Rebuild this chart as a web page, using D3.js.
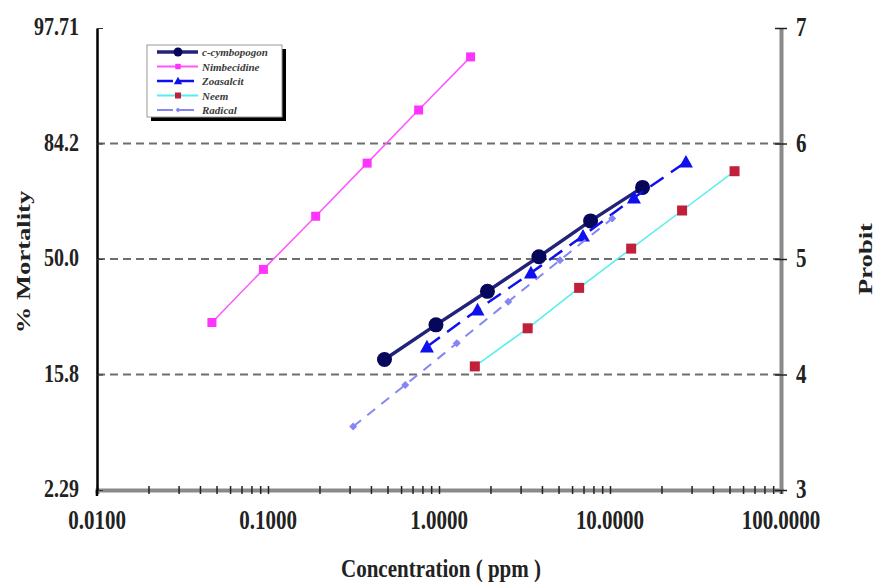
<!DOCTYPE html>
<html>
<head>
<meta charset="utf-8">
<script src="https://cdn.jsdelivr.net/npm/d3@7"></script>
<style>
body { margin: 0; background: #fff; }
text { font-family: "Liberation Serif", "DejaVu Serif", serif; font-weight: bold; fill: #222; }
</style>
</head>
<body>
<script>
// probit values and matching % mortality labels
var probitTicks = [3, 4, 5, 6, 7];
var mortalityLabels = ["2.29", "15.8", "50.0", "84.2", "97.71"];
var concTicks = [0.01, 0.1, 1, 10, 100];
var concLabels = ["0.0100", "0.1000", "1.0000", "10.0000", "100.0000"];
var gridProbits = [4, 5, 6];

var names = ["c-cymbopogon", "Nimbecidine", "Zoasalcit", "Neem", "Radical"];

var cymConc = [0.48, 0.96, 1.92, 3.84, 7.7, 15.5];
var cymProbit = [4.13, 4.43, 4.72, 5.02, 5.33, 5.62];
var nimConc = [0.047, 0.094, 0.19, 0.38, 0.76, 1.53];
var nimProbit = [4.45, 4.91, 5.37, 5.83, 6.29, 6.75];
var zoaConc = [0.85, 1.68, 3.45, 6.95, 13.8, 27.8];
var zoaProbit = [4.24, 4.56, 4.88, 5.2, 5.53, 5.84];
var neemConc = [1.62, 3.3, 6.6, 13.3, 26.4, 53.5];
var neemProbit = [4.07, 4.4, 4.75, 5.09, 5.42, 5.76];
var radConc = [0.315, 0.635, 1.27, 2.54, 5.1, 10.3];
var radProbit = [3.55, 3.91, 4.27, 4.63, 4.99, 5.35];

var W = 877, H = 582;
var svg = d3.select("body").append("svg").attr("width", W).attr("height", H);

var x = d3.scaleLog().domain([0.01, 100]).range([97, 781]);
var y = d3.scaleLinear().domain([3, 7]).range([490, 28]);

// the source picture is stretched a bit vertically, so text gets a taller scale
function label(g, tx, ty, str, size, anchor, rot, sy) {
  return g.append("text")
    .attr("transform", "translate(" + tx + "," + ty + ")" + (rot ? " rotate(" + rot + ")" : "") +
      " scale(" + (rot ? (sy || 1.25) + ",1" : "1," + (sy || 1.25)) + ")")
    .attr("text-anchor", anchor).attr("font-size", size).text(str);
}

// dashed grid
svg.append("g").selectAll("line").data(gridProbits).enter().append("line")
  .attr("x1", x(0.01)).attr("x2", x(100))
  .attr("y1", function (d) { return y(d); }).attr("y2", function (d) { return y(d); })
  .attr("stroke", "#6e6e6e").attr("stroke-width", 2).attr("stroke-dasharray", "8,5");

// bottom axis
var minor = [];
for (var e = -2; e < 2; e++) {
  for (var m = 1; m < 10; m++) minor.push(m * Math.pow(10, e));
}
minor.push(100);
var xAxis = svg.append("g").attr("transform", "translate(0," + y(3) + ")")
  .call(d3.axisBottom(x).tickValues(minor).tickSize(4).tickFormat(""));
xAxis.select(".domain").attr("stroke", "#8a8a8a").attr("stroke-width", 4);
xAxis.selectAll(".tick line").attr("y1", -4).attr("stroke", "#222").attr("stroke-width", 1.5);
var xl = svg.append("g");
concTicks.forEach(function (d, i) { label(xl, x(d), 529, concLabels[i], 21, "middle"); });

// left axis
var yAxisL = svg.append("g").attr("transform", "translate(" + x(0.01) + ",0)")
  .call(d3.axisRight(y).tickValues(probitTicks).tickSize(6).tickSizeOuter(0).tickFormat(""));
yAxisL.select(".domain").attr("stroke", "#000").attr("stroke-width", 2.5);
yAxisL.selectAll(".tick line").attr("stroke", "#333");
svg.append("line").attr("x1", x(0.01)).attr("x2", x(0.01)).attr("y1", y(3)).attr("y2", y(3) + 6)
  .attr("stroke", "#000").attr("stroke-width", 2.5);
var yl = svg.append("g");
probitTicks.forEach(function (d, i) { label(yl, 79, y(d) + 7, mortalityLabels[i], 20, "end"); });

// right axis
var yAxisR = svg.append("g").attr("transform", "translate(" + x(100) + ",0)")
  .call(d3.axisRight(y).tickValues(probitTicks).tickSize(6).tickSizeOuter(0).tickFormat(""));
yAxisR.select(".domain").attr("stroke", "#8a8a8a").attr("stroke-width", 4);
yAxisR.selectAll(".tick line").attr("x1", -6).attr("stroke", "#222").attr("stroke-width", 1.5);
var yr = svg.append("g");
probitTicks.forEach(function (d) { label(yr, 796, y(d) + 8, d, 21, "start"); });

// axis titles
label(svg, 30, 262, "% Mortality", 19, "middle", -90, 1.4);
label(svg, 872, 259, "Probit", 19, "middle", -90, 1.4);
label(svg, 441, 577, "Concentration ( ppm )", 21, "middle", 0, 1.2);

var series = [
  { conc: cymConc, p: cymProbit, line: "#22227a", w: 3.5, dash: null, mark: "circle", fill: "#06065a", size: 7.5 },
  { conc: nimConc, p: nimProbit, line: "#ff55ff", w: 1.5, dash: null, mark: "square", fill: "#ff33ff", size: 4.5 },
  { conc: zoaConc, p: zoaProbit, line: "#1010ee", w: 2.5, dash: "16,9", mark: "triangle", fill: "#1010ee", size: 7 },
  { conc: neemConc, p: neemProbit, line: "#55eeee", w: 1.5, dash: null, mark: "square", fill: "#c0203a", size: 5 },
  { conc: radConc, p: radProbit, line: "#8585f5", w: 2, dash: "10,8", mark: "diamond", fill: "#8585f5", size: 4 }
];

var line = d3.line();
function drawMark(g, s, cx, cy, k) {
  var r = s.size * k;
  if (s.mark === "circle") {
    g.append("circle").attr("cx", cx).attr("cy", cy).attr("r", r).attr("fill", s.fill);
  } else if (s.mark === "square") {
    g.append("rect").attr("x", cx - r).attr("y", cy - r).attr("width", 2 * r).attr("height", 2 * r).attr("fill", s.fill);
  } else if (s.mark === "triangle") {
    g.append("path").attr("d", "M" + cx + "," + (cy - r) + "L" + (cx + r) + "," + (cy + r * 0.8) + "L" + (cx - r) + "," + (cy + r * 0.8) + "Z")
      .attr("fill", s.fill);
  } else {
    g.append("path").attr("d", "M" + cx + "," + (cy - r) + "L" + (cx + r) + "," + cy + "L" + cx + "," + (cy + r) + "L" + (cx - r) + "," + cy + "Z")
      .attr("fill", s.fill);
  }
}

series.forEach(function (s) {
  var pts = s.conc.map(function (c, i) { return [x(c), y(s.p[i])]; });
  var g = svg.append("g");
  g.append("path").attr("d", line(pts)).attr("fill", "none")
    .attr("stroke", s.line).attr("stroke-width", s.w)
    .attr("stroke-dasharray", s.dash);
  pts.forEach(function (p) { drawMark(g, s, p[0], p[1], 1); });
});

// legend
var lg = svg.append("g");
lg.append("rect").attr("x", 151).attr("y", 49).attr("width", 135).attr("height", 72).attr("fill", "#000");
lg.append("rect").attr("x", 147).attr("y", 45).attr("width", 135).attr("height", 72)
  .attr("fill", "#fff").attr("stroke", "#999").attr("stroke-width", 1);
series.forEach(function (s, i) {
  var ly = 52 + i * 14.5;
  lg.append("line").attr("x1", 157).attr("x2", 198).attr("y1", ly).attr("y2", ly)
    .attr("stroke", s.line).attr("stroke-width", Math.max(2, s.w))
    .attr("stroke-dasharray", s.dash ? "16,5" : null);
  drawMark(lg, s, 178, ly, 0.6);
  label(lg, 202, ly + 4, names[i], 11, "start", 0, 1.0)
    .attr("font-style", "italic").style("fill", "#3a3a3a");
});
</script>
</body>
</html>
